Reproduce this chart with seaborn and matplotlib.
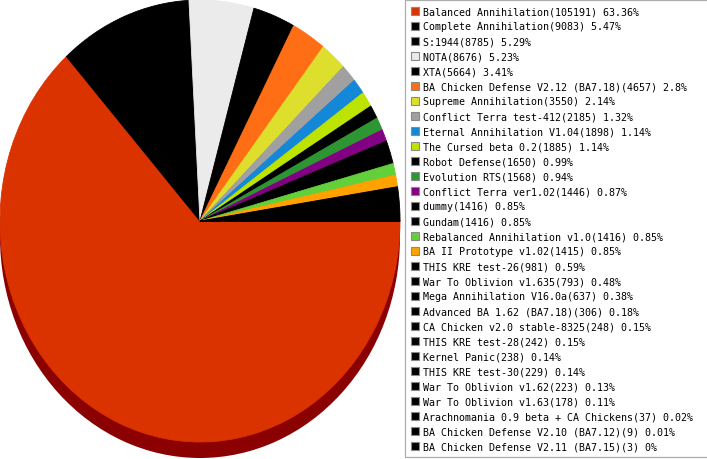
import matplotlib
matplotlib.use("Agg")
import matplotlib.pyplot as plt
from matplotlib.patches import Ellipse, Patch
import seaborn as sns

names = ["Balanced Annihilation", "Complete Annihilation", "S:1944", "NOTA", "XTA",
         "BA Chicken Defense V2.12 (BA7.18)", "Supreme Annihilation", "Conflict Terra test-412",
         "Eternal Annihilation V1.04", "The Cursed beta 0.2", "Robot Defense", "Evolution RTS",
         "Conflict Terra ver1.02", "dummy", "Gundam", "Rebalanced Annihilation v1.0",
         "BA II Prototype v1.02", "THIS KRE test-26", "War To Oblivion v1.635",
         "Mega Annihilation V16.0a", "Advanced BA 1.62 (BA7.18)", "CA Chicken v2.0 stable-8325",
         "THIS KRE test-28", "Kernel Panic", "THIS KRE test-30", "War To Oblivion v1.62",
         "War To Oblivion v1.63", "Arachnomania 0.9 beta + CA Chickens",
         "BA Chicken Defense V2.10 (BA7.12)", "BA Chicken Defense V2.11 (BA7.15)"]
counts = [105191, 9083, 8785, 8676, 5664, 4657, 3550, 2185, 1898, 1885, 1650, 1568, 1446,
          1416, 1416, 1416, 1415, 981, 793, 637, 306, 248, 242, 238, 229, 223, 178, 37, 9, 3]
pcts = ["63.36%", "5.47%", "5.29%", "5.23%", "3.41%", "2.8%", "2.14%", "1.32%", "1.14%",
        "1.14%", "0.99%", "0.94%", "0.87%", "0.85%", "0.85%", "0.85%", "0.85%", "0.59%",
        "0.48%", "0.38%", "0.18%", "0.15%", "0.15%", "0.14%", "0.14%", "0.13%", "0.11%",
        "0.02%", "0.01%", "0%"]
colors = ["#DA3300", "#000000", "#000000", "#EBEBEB", "#000000", "#FF6D14", "#DEDE2C",
          "#A0A0A0", "#1488D8", "#BDE400", "#000000", "#2D9632", "#820082", "#000000",
          "#000000", "#62D03A", "#FFA200"] + ["#000000"] * 13

sns.set_theme(style="white")
plt.rcParams["font.family"] = ["DejaVu Sans Mono", "DejaVu Sans"]
plt.rcParams["text.color"] = "black"
palette = sns.color_palette(colors)

W, H = 707, 460
fig = plt.figure(figsize=(W / 100, H / 100), dpi=100)
fig.patch.set_facecolor("white")
ax = fig.add_axes([0, 0, 401 / W, 1])

ry = 221.0
cy = 238.0
shadow = Ellipse((0, -16 / ry), 2, 2, facecolor="#8B0000", edgecolor="none", zorder=0.5)
ax.add_patch(shadow)
wedges, _ = ax.pie(counts, colors=palette, startangle=0, counterclock=False, radius=1,
                   wedgeprops=dict(linewidth=0.6))
for w in wedges:
    w.set_edgecolor(w.get_facecolor())
ax.set_aspect("auto")
ax.set_xlim(-1.0, 1.005)
ax.set_ylim(-cy / ry, (H - cy) / ry)
ax.axis("off")

handles = [Patch(facecolor=c, edgecolor="#8a8a8a", linewidth=0.8) for c in colors]
labels = [f"{n}({c}) {p}" for n, c, p in zip(names, counts, pcts)]
leg = fig.legend(handles, labels, loc="upper left",
                 bbox_to_anchor=(405 / W, 0, 310 / W, 1 - 1 / H), mode="expand",
                 bbox_transform=fig.transFigure, borderaxespad=0, frameon=True,
                 fancybox=False, edgecolor="#999999", fontsize=7.2,
                 handlelength=0.8, handleheight=0.8, handletextpad=0.4,
                 labelspacing=0.5, borderpad=0.62, labelcolor="black")
leg.get_frame().set_linewidth(0.9)

fig.savefig("out.png", dpi=100, facecolor="white")
